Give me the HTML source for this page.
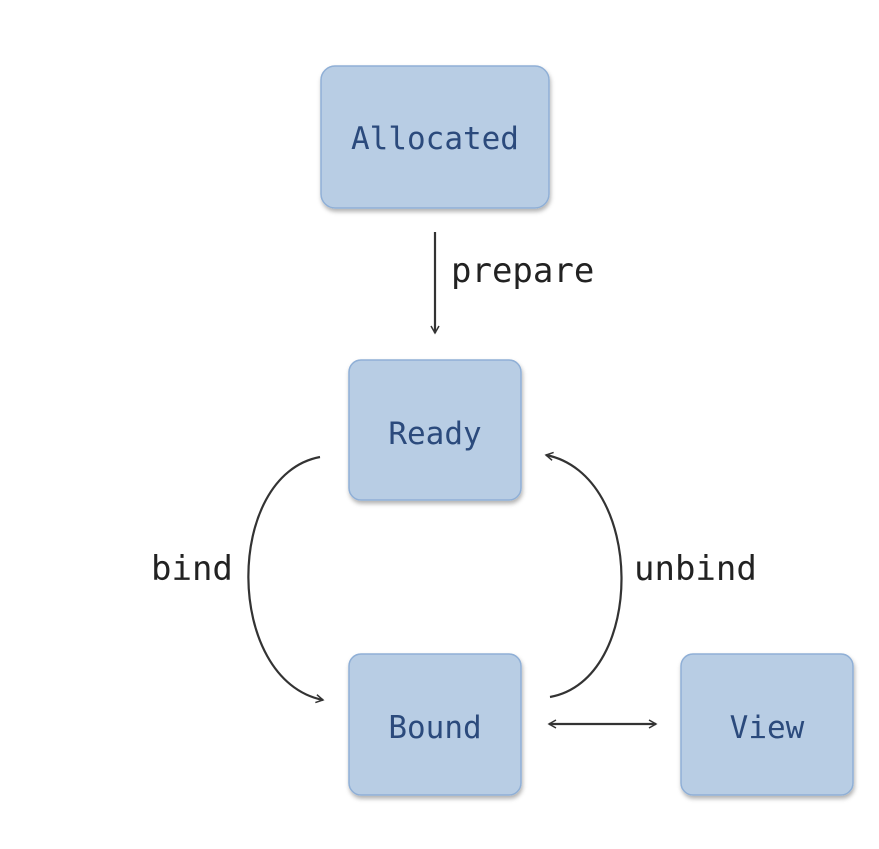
<!DOCTYPE html>
<html><head><style>
body{margin:0;background:#fff;width:879px;height:844px;overflow:hidden}
</style></head><body>
<svg width="879" height="844" xmlns="http://www.w3.org/2000/svg">
<defs>
<filter id="s" x="-10%" y="-10%" width="130%" height="130%"><feDropShadow dx="1" dy="3" stdDeviation="2" flood-color="#000" flood-opacity="0.3"/></filter>
<marker id="a" markerWidth="10" markerHeight="10" refX="8" refY="5" orient="auto" markerUnits="userSpaceOnUse"><path d="M1,1 L8,5 L1,9" fill="none" stroke="#333" stroke-width="1.5"/></marker>
<marker id="b" markerWidth="10" markerHeight="10" refX="2" refY="5" orient="auto" markerUnits="userSpaceOnUse"><path d="M9,1 L2,5 L9,9" fill="none" stroke="#333" stroke-width="1.5"/></marker>
</defs>
<g fill="#b8cde4" stroke="#8fafd6" stroke-width="1.5" filter="url(#s)">
<rect x="321" y="66" width="228" height="142" rx="14"/>
<rect x="349" y="360" width="172" height="140" rx="12"/>
<rect x="349" y="654" width="172" height="141" rx="12"/>
<rect x="681" y="654" width="172" height="141" rx="12"/>
</g>
<g font-family="DejaVu Sans Mono, Liberation Mono, monospace" font-size="31" fill="#2b4a7c" text-anchor="middle">
<text x="435" y="149">Allocated</text>
<text x="435" y="444">Ready</text>
<text x="435" y="738">Bound</text>
<text x="767" y="738">View</text>
</g>
<g font-family="DejaVu Sans Mono, Liberation Mono, monospace" font-size="34" fill="#222">
<text x="451" y="282">prepare</text>
<text x="151" y="580">bind</text>
<text x="634" y="580">unbind</text>
</g>
<g fill="none" stroke="#333" stroke-width="2.2">
<line x1="435" y1="232" x2="435" y2="333" marker-end="url(#a)"/>
<path d="M320,457 C224,475 224,680 323,700" marker-end="url(#a)"/>
<path d="M550,697 C646,680 646,475 546,455" marker-end="url(#a)"/>
<line x1="549" y1="724" x2="656" y2="724" marker-start="url(#b)" marker-end="url(#a)"/>
</g>
</svg>
</body></html>
